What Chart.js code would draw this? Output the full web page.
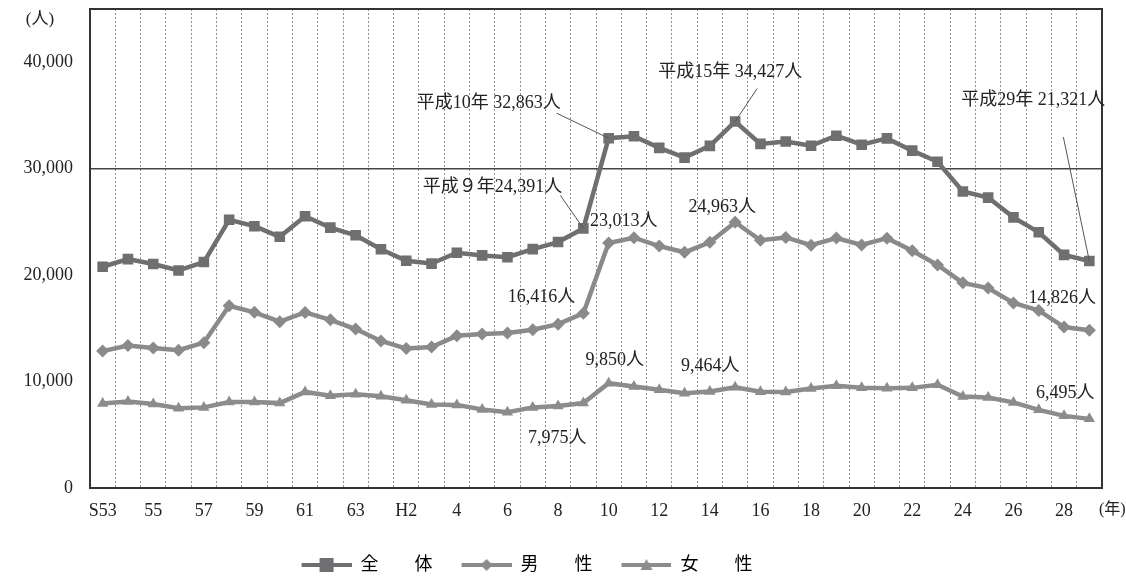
<!DOCTYPE html>
<html lang="ja">
<head>
<meta charset="utf-8">
<title>自殺者数の推移</title>
<script src="https://cdn.jsdelivr.net/npm/chart.js@4/dist/chart.umd.min.js"></script>
<style>
  html, body { margin: 0; padding: 0; background: #fff; }
  #wrap { width: 1126px; height: 577px; }
</style>
</head>
<body>
<div id="wrap"><canvas id="suicideChart"></canvas></div>
<script>
// 年（S53〜H29）
const years = ['S53', '54', '55', '56', '57', '58', '59', '60', '61', '62', '63',
  'H1', 'H2', '3', '4', '5', '6', '7', '8', '9', '10', '11', '12', '13', '14', '15',
  '16', '17', '18', '19', '20', '21', '22', '23', '24', '25', '26', '27', '28', '29'];

// 全体
const total = [20788, 21503, 21048, 20434, 21228, 25202, 24596, 23599, 25524, 24460, 23742,
  22436, 21346, 21084, 22104, 21851, 21679, 22445, 23104, 24391, 32863, 33048, 31957, 31042,
  32143, 34427, 32325, 32552, 32155, 33093, 32249, 32845, 31690, 30651, 27858, 27283, 25427,
  24025, 21897, 21321];

// 男性
const male = [12859, 13386, 13155, 12942, 13654, 17116, 16508, 15624, 16497, 15802, 14934,
  13818, 13102, 13242, 14296, 14468, 14560, 14874, 15393, 16416, 23013, 23512, 22727, 22144,
  23080, 24963, 23272, 23540, 22813, 23478, 22831, 23472, 22283, 20955, 19273, 18787, 17386,
  16681, 15121, 14826];

// 女性
const female = [7929, 8117, 7893, 7492, 7574, 8086, 8088, 7975, 9027, 8658, 8808,
  8618, 8244, 7842, 7808, 7383, 7119, 7571, 7711, 7975, 9850, 9536, 9230, 8898,
  9063, 9464, 9053, 9012, 9342, 9615, 9418, 9373, 9407, 9696, 8585, 8496, 8041,
  7344, 6776, 6495];

const seriesNames = ['全　　体', '男　　性', '女　　性'];
const yTicks = [0, 10000, 20000, 30000, 40000];

const FONT = '"Liberation Serif", "Noto Sans CJK JP", serif';

// 注記（点からのずらし量で配置）
const notes = [
  { ds: 0, i: 20, text: '平成10年 32,863人', dx: -48, dy: -35, align: 'right', line: [-52, -25] },
  { ds: 0, i: 25, text: '平成15年 34,427人', dx: -5, dy: -49, align: 'center', line: [22, -33] },
  { ds: 0, i: 39, text: '平成29年 21,321人', dx: 16, dy: -161, align: 'right', line: [-26, -124] },
  { ds: 0, i: 19, text: '平成９年24,391人', dx: -21, dy: -41, align: 'right', line: [-23, -33] },
  { ds: 1, i: 20, text: '23,013人', dx: 15, dy: -22, align: 'center' },
  { ds: 1, i: 25, text: '24,963人', dx: -13, dy: -15, align: 'center' },
  { ds: 1, i: 19, text: '16,416人', dx: -8, dy: -16, align: 'right' },
  { ds: 1, i: 39, text: '14,826人', dx: -27, dy: -32, align: 'center' },
  { ds: 2, i: 20, text: '9,850人', dx: 6, dy: -23, align: 'center' },
  { ds: 2, i: 25, text: '9,464人', dx: -25, dy: -21, align: 'center' },
  { ds: 2, i: 19, text: '7,975人', dx: -26, dy: 35, align: 'center' },
  { ds: 2, i: 39, text: '6,495人', dx: -24, dy: -26, align: 'center' }
];

// 凡例用の線＋マーカー画像（左に余白をとる）
function legendIcon(color, style) {
  const c = document.createElement('canvas');
  c.width = 76; c.height = 16;
  const g = c.getContext('2d');
  const o = 26;
  g.fillStyle = color;
  g.fillRect(o, 6, 50, 4);
  g.beginPath();
  if (style === 'rect') {
    g.rect(o + 18, 1, 14, 14);
  } else if (style === 'rectRot') {
    g.moveTo(o + 25, 2); g.lineTo(o + 31, 8); g.lineTo(o + 25, 14); g.lineTo(o + 19, 8);
  } else {
    g.moveTo(o + 25, 2); g.lineTo(o + 31, 13); g.lineTo(o + 19, 13);
  }
  g.closePath();
  g.fill();
  return c;
}

const colors = ['#6f6f71', '#8a8a8c', '#8c8c8e'];
const styles = ['rect', 'rectRot', 'triangle'];

const framePlugin = {
  id: 'frame',
  afterDraw(chart) {
    const { ctx, chartArea: a } = chart;
    ctx.save();
    ctx.strokeStyle = '#333';
    ctx.lineWidth = 2;
    ctx.strokeRect(a.left, a.top, a.right - a.left, a.bottom - a.top);

    ctx.fillStyle = '#222';
    ctx.font = '17px ' + FONT;
    ctx.textBaseline = 'middle';
    ctx.textAlign = 'center';
    ctx.fillText('(人)', a.left - 50, a.top + 11);
    ctx.font = '16px ' + FONT;
    ctx.textAlign = 'left';
    ctx.fillText('(年)', a.right - 3, a.bottom + 22);

    // 注記
    notes.forEach(n => {
      const pt = chart.getDatasetMeta(n.ds).data[n.i];
      if (n.line) {
        ctx.strokeStyle = '#555';
        ctx.lineWidth = 1;
        ctx.beginPath();
        ctx.moveTo(pt.x + n.line[0], pt.y + n.line[1]);
        ctx.lineTo(pt.x, pt.y);
        ctx.stroke();
      }
      ctx.fillStyle = '#222';
      ctx.font = '18px ' + FONT;
      ctx.textAlign = n.align;
      ctx.fillText(n.text, pt.x + n.dx, pt.y + n.dy);
    });
    ctx.restore();
  }
};

const seriesData = [total, male, female];

new Chart(document.getElementById('suicideChart'), {
  type: 'line',
  data: {
    labels: years,
    datasets: seriesData.map((d, k) => ({
      label: seriesNames[k],
      data: d,
      borderColor: colors[k],
      backgroundColor: colors[k],
      borderWidth: 4.5,
      pointStyle: styles[k],
      pointRadius: k === 0 ? 7.5 : 6.5,
      pointBorderWidth: 0,
      tension: 0
    }))
  },
  options: {
    responsive: true,
    maintainAspectRatio: false,
    animation: false,
    layout: { padding: { top: 8, right: 24, left: -74, bottom: -7 } },
    plugins: {
      tooltip: { enabled: false },
      legend: {
        position: 'bottom',
        labels: {
          usePointStyle: true,
          pointStyleWidth: 76,
          padding: 3,
          color: '#222',
          font: { family: FONT, size: 18 },
          generateLabels(chart) {
            return chart.data.datasets.map((ds, k) => ({
              text: ds.label,
              pointStyle: legendIcon(colors[k], styles[k]),
              fillStyle: colors[k],
              strokeStyle: colors[k],
              lineWidth: 0,
              datasetIndex: k
            }));
          }
        }
      }
    },
    scales: {
      x: {
        offset: true,
        border: { display: false, dash: [2, 2] },
        grid: {
          offset: true,
          color: '#8f8f8f',
          lineWidth: 1,
          drawTicks: false
        },
        ticks: {
          autoSkip: false,
          maxRotation: 0,
          padding: 14,
          color: '#222',
          font: { family: FONT, size: 18, lineHeight: 1 },
          callback: (v, i) => (i % 2 === 0 ? years[i] : '')
        },
        afterFit(s) { s.height = 65; }
      },
      y: {
        min: 0,
        max: 45000,
        border: { display: false },
        afterBuildTicks(s) { s.ticks = yTicks.map(v => ({ value: v })); },
        grid: {
          drawTicks: true,
          tickLength: 17,
          tickColor: 'rgba(0,0,0,0)',
          color: c => (c.tick && c.tick.value === 30000 ? '#444' : 'rgba(0,0,0,0)'),
          lineWidth: 1.5
        },
        ticks: {
          padding: 0,
          color: '#222',
          font: { family: FONT, size: 18, lineHeight: 1 },
          callback: v => v.toLocaleString('en-US')
        },
        afterFit(s) { s.width = 164; }
      }
    }
  },
  plugins: [framePlugin]
});
</script>
</body>
</html>
